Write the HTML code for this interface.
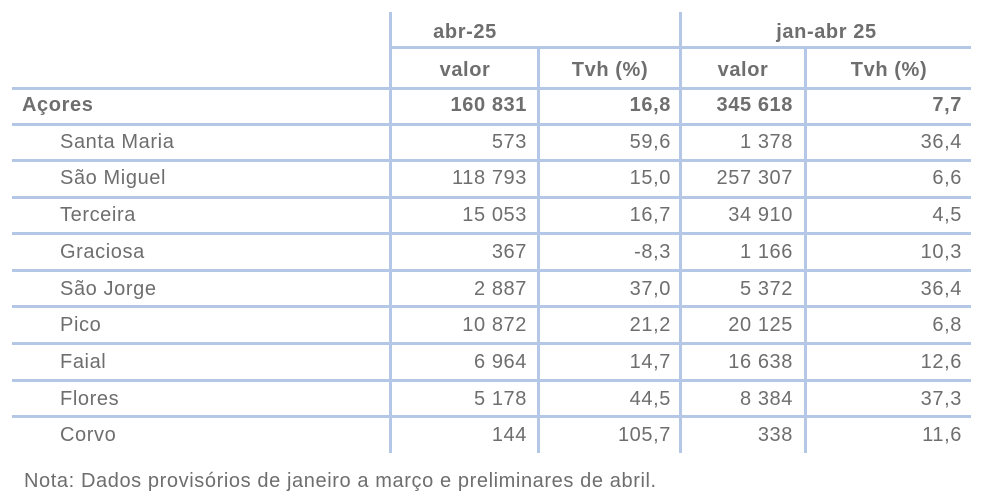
<!DOCTYPE html>
<html><head><meta charset="utf-8"><style>
body{margin:0;width:988px;height:504px;background:#fff;position:relative;font-family:"Liberation Sans",sans-serif;color:#6e6e6e;overflow:hidden}
.h{position:absolute;height:3px;background:#b4c7e7}
.v{position:absolute;width:3px;background:#b4c7e7;top:12px;height:441px}
.t{position:absolute;font-size:20px;line-height:22px;white-space:nowrap;letter-spacing:0.6px}
.r{text-align:right}
.b{font-weight:bold}
</style></head><body>
<div class="v" style="left:389px"></div>
<div class="v" style="left:537px;top:48px;height:405px"></div>
<div class="v" style="left:679px"></div>
<div class="v" style="left:804px;top:48px;height:405px"></div>
<div class="h" style="left:389px;width:582px;top:46px"></div>
<div class="h" style="left:12px;width:959px;top:87px"></div>
<div class="h" style="left:12px;width:959px;top:123px"></div>
<div class="h" style="left:12px;width:959px;top:159px"></div>
<div class="h" style="left:12px;width:959px;top:196px"></div>
<div class="h" style="left:12px;width:959px;top:232px"></div>
<div class="h" style="left:12px;width:959px;top:269px"></div>
<div class="h" style="left:12px;width:959px;top:305px"></div>
<div class="h" style="left:12px;width:959px;top:342px"></div>
<div class="h" style="left:12px;width:959px;top:379px"></div>
<div class="h" style="left:12px;width:959px;top:415px"></div>
<div class="t b" style="left:392px;width:146px;text-align:center;top:21px">abr-25</div>
<div class="t b" style="left:682px;width:289px;text-align:center;top:21px">jan-abr 25</div>
<div class="t b" style="left:392px;width:146px;text-align:center;top:59px">valor</div>
<div class="t b" style="left:540px;width:140px;text-align:center;top:59px">Tvh (%)</div>
<div class="t b" style="left:682px;width:122px;text-align:center;top:59px">valor</div>
<div class="t b" style="left:807px;width:164px;text-align:center;top:59px">Tvh (%)</div>
<div id="rows"></div>
<div class="t" style="left:24px;top:470px">Nota: Dados provisórios de janeiro a março e preliminares de abril.</div>
<script>
var d=[["Açores","160 831","16,8","345 618","7,7"],["Santa Maria","573","59,6","1 378","36,4"],["São Miguel","118 793","15,0","257 307","6,6"],["Terceira","15 053","16,7","34 910","4,5"],["Graciosa","367","-8,3","1 166","10,3"],["São Jorge","2 887","37,0","5 372","36,4"],["Pico","10 872","21,2","20 125","6,8"],["Faial","6 964","14,7","16 638","12,6"],["Flores","5 178","44,5","8 384","37,3"],["Corvo","144","105,7","338","11,6"]];
var h="",rights=[527,671,793,962];
d.forEach(function(r,i){var y=94+i*36.7,b=i==0?" b":"";
h+='<div class="t'+b+'" style="left:'+(i==0?22:60)+'px;top:'+y+'px">'+r[0]+'</div>';
for(var j=1;j<5;j++)h+='<div class="t r'+b+'" style="right:'+(988-rights[j-1])+'px;top:'+y+'px">'+r[j]+'</div>';});
document.getElementById("rows").innerHTML=h;
</script>
</body></html>
